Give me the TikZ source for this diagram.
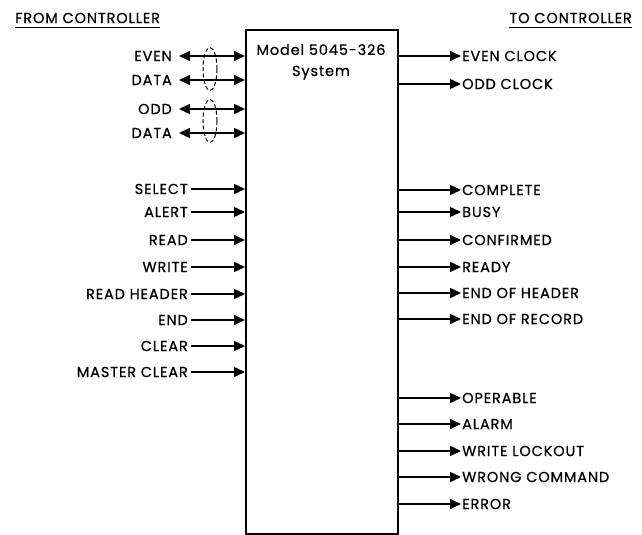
\documentclass[tikz,border=0pt]{standalone}
\usepackage{fontspec}
\setmainfont{Poppins}[LetterSpace=6,FakeBold=0.6]
\usetikzlibrary{arrows.meta,shapes.geometric}
\begin{document}
\begin{tikzpicture}[x=1pt,y=-1pt,
  lbl/.style={inner sep=0pt,font=\fontsize{14.5}{16}\selectfont},
  llbl/.style={lbl,anchor=east},
  rlbl/.style={lbl,anchor=west},
  tip/.tip={Triangle[length=11pt,width=10pt]},
  arr/.style={line width=1.5pt,-tip},
  darr/.style={line width=1.5pt,tip-tip},
  grp/.style={draw,dashed,dash pattern=on 4pt off 2.5pt,line width=1pt,ellipse,minimum width=14pt,inner sep=0pt},
  sysbox/.style={draw,line width=1.6pt,inner sep=0pt}]
\useasboundingbox (0,0) rectangle (642,535);
\fill[white] (0,0) rectangle (642,535);
\node[sysbox,minimum width=152pt,minimum height=504pt,anchor=north west] (box) at (245,29) {};
\node[font=\fontsize{14.5}{21}\selectfont,align=center,anchor=north,inner sep=0pt] (title) at (321,44) {Model 5045-326\\System};
% headers
\node[lbl,anchor=west] (from) at (15,18) {FROM CONTROLLER};
\draw[line width=0.9pt] ([yshift=-4pt]from.south west) -- ([yshift=-4pt]from.south east);
\node[lbl,anchor=east] (to) at (632,18) {TO CONTROLLER};
\draw[line width=0.9pt] ([yshift=-4pt]to.south west) -- ([yshift=-4pt]to.south east);
% data lines
\foreach \n/\t/\y in {ev/EVEN/56,ed/DATA/80,od/ODD/109,dd/DATA/133}{
  \node[llbl] (\n) at (172,\y) {\t};
  \coordinate (\n s) at (179,\y);
  \draw[darr] (\n s) -- (\n s -| box.west);
}
\node[grp,minimum height=43pt] (g1) at (210,69) {};
\node[grp,minimum height=43pt] (g2) at (210,121) {};
% inputs
\foreach \n/\t/\y in {sel/SELECT/189,ale/ALERT/212,rd/READ/240,wr/WRITE/267,rh/READ HEADER/294,en/END/320,cl/CLEAR/346,mc/MASTER CLEAR/372}{
  \node[llbl] (\n) at (188,\y) {\t};
  \draw[arr] ([xshift=3pt]\n.east) -- (\n -| box.west);
}
% outputs
\foreach \n/\t/\y in {eclk/EVEN CLOCK/56,oclk/ODD CLOCK/84,cmp/COMPLETE/190,bsy/BUSY/212,cnf/CONFIRMED/240,rdy/READY/267,eoh/END OF HEADER/293,eor/END OF RECORD/319,opr/OPERABLE/398,alm/ALARM/424,wlk/WRITE LOCKOUT/451,wcm/WRONG COMMAND/477,err/ERROR/504}{
  \node[rlbl] (\n) at (462,\y) {\t};
  \draw[arr] (\n -| box.east) -- ([xshift=-1pt]\n.west);
}
\end{tikzpicture}
\end{document}
